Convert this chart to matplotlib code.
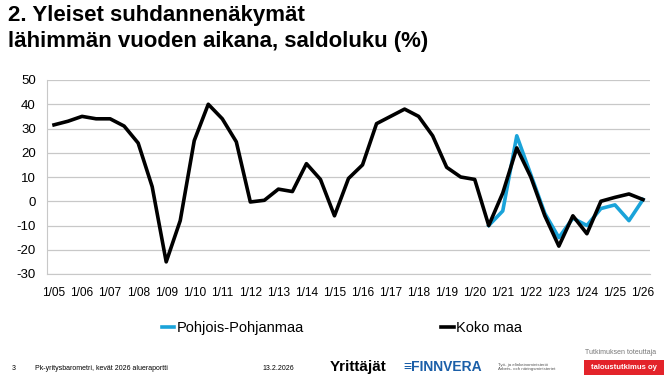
import matplotlib
matplotlib.use("Agg")
import matplotlib.pyplot as plt
from matplotlib.patches import Rectangle

plt.rcParams['font.family'] = ['Liberation Sans', 'DejaVu Sans']
plt.rcParams['axes.unicode_minus'] = False

# half-year observations, spring 2005 .. spring 2026
tick_labels = ['1/05', '1/06', '1/07', '1/08', '1/09', '1/10', '1/11', '1/12', '1/13', '1/14', '1/15',
               '1/16', '1/17', '1/18', '1/19', '1/20', '1/21', '1/22', '1/23', '1/24', '1/25', '1/26']

koko_maa = [31.5, 33, 35, 34, 34, 31, 24, 6, -25, -8, 25, 40, 34, 24.5, -0.3, 0.4, 5, 4, 15.5, 9, -6,
            9.4, 15, 32, 35, 38, 35, 27, 14, 10, 9, -10, 3.4, 22, 10, -6, -18.5, -6, -13.4, 0, 1.6, 3, 0.7]

# regional series only from autumn 2020
pp_start = 31
pohjois_pohjanmaa = [-10, -4, 27, 11, -5, -15, -7, -10, -3, -1.5, -8, 0.7]

x_all = list(range(len(koko_maa)))
x_pp = list(range(pp_start, pp_start + len(pohjois_pohjanmaa)))

fig = plt.figure(figsize=(6.68, 3.76), dpi=100)
ax = fig.add_axes([47 / 668, 1 - 274 / 376, (650 - 47) / 668, (274 - 80) / 376])

ax.plot(x_pp, pohjois_pohjanmaa, color='#1aa3d9', lw=2.6, label='Pohjois-Pohjanmaa', zorder=3)
ax.plot(x_all, koko_maa, color='black', lw=2.6, label='Koko maa', zorder=4)

ax.set_ylim(-30, 50)
ax.set_yticks(range(-30, 51, 10))
ax.set_xlim(-0.5, len(koko_maa) - 0.5)
ax.set_xticks(range(0, len(koko_maa), 2))
ax.set_xticklabels(tick_labels, fontsize=8.6)
ax.tick_params(axis='y', labelsize=9.5, length=0, pad=8)
ax.tick_params(axis='x', length=0, pad=9)
ax.grid(axis='y', color='#c8c8c8', lw=0.9)
ax.set_axisbelow(True)
for s in ['top', 'right']:
    ax.spines[s].set_visible(False)
ax.spines['left'].set_color('#c8c8c8')
ax.spines['bottom'].set_color('#c8c8c8')

fig.text(8 / 668, 1 - 5 / 376, '2. Yleiset suhdannenäkymät\nlähimmän vuoden aikana, saldoluku (%)',
         fontsize=16, fontweight='bold', va='top', ha='left', linespacing=1.3)

fig.legend(loc='center', bbox_to_anchor=(0.512, 1 - 328 / 376), ncol=2, frameon=False,
           fontsize=10.5, handlelength=0.85, handletextpad=0.2, columnspacing=9.4)

# footer
fig.text(12 / 668, 1 - 369 / 376, '3', fontsize=5, va='center')
fig.text(35 / 668, 1 - 369 / 376, 'Pk-yritysbarometri, kevät 2026 alueraportti', fontsize=5, va='center')
fig.text(262 / 668, 1 - 369 / 376, '13.2.2026', fontsize=5, va='center')
fig.text(330 / 668, 1 - 367 / 376, 'Yrittäjät', fontsize=11, fontweight='bold', va='center')
fig.text(403 / 668, 1 - 367 / 376, '≡FINNVERA', fontsize=10, fontweight='bold', color='#1b5fa8', va='center')
fig.text(498 / 668, 1 - 367 / 376, 'Työ- ja elinkeinoministeriö\nArbets- och näringsministeriet',
         fontsize=3.2, color='#555555', va='center')
fig.text(585 / 668, 1 - 352 / 376, 'Tutkimuksen toteuttaja', fontsize=5, color='#777777', va='center')
fig.patches.append(Rectangle((584 / 668, 1 - 375 / 376), 80 / 668, 15 / 376, transform=fig.transFigure,
                             facecolor='#e3232a', edgecolor='none'))
fig.text(624 / 668, 1 - 367.5 / 376, 'taloustutkimus oy', fontsize=5.5, color='white', fontweight='bold',
         va='center', ha='center')

fig.savefig('out.png', dpi=100)
